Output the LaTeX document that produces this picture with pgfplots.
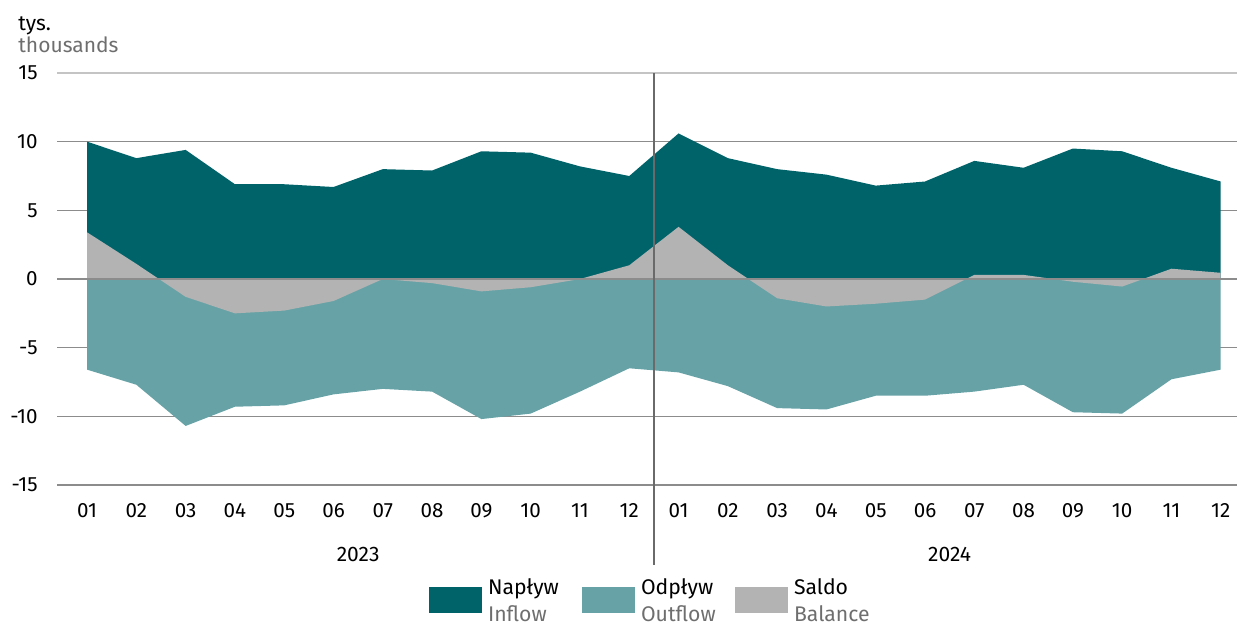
\documentclass[border=0pt]{standalone}
\usepackage{pgfplots}
\pgfplotsset{compat=1.18}
\usepackage{pgfplotstable}
\usepackage{fontspec}
\setmainfont{Fira Sans}
\definecolor{inflowc}{HTML}{00636A}
\definecolor{outflowc}{HTML}{67A2A6}
\definecolor{balancec}{HTML}{B3B3B3}
\definecolor{gridc}{HTML}{8C8C8C}
\definecolor{gridtop}{HTML}{C4C4C4}
\definecolor{subtext}{HTML}{6E6E6E}
\definecolor{sepc}{HTML}{6A6A6A}
\pgfplotstableread{
x inflow outflow balance
0 10.0 -6.6 3.4
1 8.8 -7.7 1.1
2 9.4 -10.7 -1.3
3 6.9 -9.3 -2.5
4 6.9 -9.2 -2.3
5 6.7 -8.4 -1.6
6 8.0 -8.0 0.0
7 7.9 -8.2 -0.3
8 9.3 -10.2 -0.9
9 9.2 -9.8 -0.6
10 8.2 -8.2 0.0
11 7.5 -6.5 1.0
12 10.6 -6.8 3.8
13 8.8 -7.8 1.0
14 8.0 -9.4 -1.4
15 7.6 -9.5 -2.0
16 6.8 -8.5 -1.8
17 7.1 -8.5 -1.5
18 8.6 -8.2 0.3
19 8.1 -7.7 0.3
20 9.5 -9.7 -0.2
21 9.3 -9.8 -0.55
22 8.1 -7.3 0.75
23 7.1 -6.6 0.45
}\datatable
\newcommand{\legtext}[2]{\raisebox{5pt}[6pt][6pt]{\parbox[t]{47pt}{\raggedright\fontsize{10.6}{13.5}\selectfont #1\\\textcolor{subtext}{#2}}}}
\begin{document}
\fontsize{10.5}{12.5}\selectfont
\begin{tikzpicture}
\path[use as bounding box] (0,0) rectangle (618.5pt,311.5pt);
\node[anchor=base west, inner sep=0pt] at (9pt,296.5pt) {tys.};
\node[anchor=base west, inner sep=0pt, text=subtext] at (9pt,285pt) {thousands};
\begin{axis}[
  at={(28.5pt,69pt)}, anchor=south west,
  width=590pt, height=206pt, scale only axis,
  xmin=-0.61, xmax=23.33, ymin=-15, ymax=15,
  clip=false,
  axis line style={draw=none},
  major tick length=0pt,
  ytick={-15,-10,-5,0,5,10},
  extra y ticks={15},
  extra y tick style={grid style={draw=gridtop, line width=0.6pt}},
  ymajorgrids,
  grid style={draw=gridc, line width=0.6pt},
  xtick={0,...,23},
  xticklabels={01,02,03,04,05,06,07,08,09,10,11,12,01,02,03,04,05,06,07,08,09,10,11,12},
  /pgf/number format/assume math mode=true,
  yticklabel style={anchor=east, inner sep=0pt, xshift=-9.5pt},
  xticklabel style={anchor=base, inner sep=0pt, yshift=-16pt},
  tick label style={font=\fontsize{10.3}{12}\selectfont},
  legend columns=3,
  legend style={at={(0.503,0)}, anchor=center, xshift=4pt, yshift=-57.5pt, draw=none, fill=none,
    inner sep=0pt,
    nodes={inner sep=0pt},
    /tikz/every odd column/.append style={column sep=3pt}},
  legend image code/.code={\path[#1] (0pt,-6.5pt) rectangle (26.5pt,6.5pt);},
]
\addplot[fill=inflowc, draw=none] table[x=x, y=inflow] {\datatable} \closedcycle;
\addlegendentry{\legtext{Napływ}{Inflow}}
\addplot[fill=outflowc, draw=none] table[x=x, y=outflow] {\datatable} \closedcycle;
\addlegendentry{\legtext{Odpływ}{Outflow}}
\addplot[fill=balancec, draw=none] table[x=x, y=balance] {\datatable} \closedcycle;
\addlegendentry{\legtext{Saldo}{Balance}}
\draw[draw=gridc, line width=0.7pt] (rel axis cs:0,0.5) -- (rel axis cs:1,0.5);
\draw[draw=sepc, line width=0.6pt] (axis cs:11.5,15) -- ([yshift=-40pt]axis cs:11.5,-15);
\node[anchor=base, inner sep=0pt] at ([yshift=-38pt]axis cs:5.5,-15) {2023};
\node[anchor=base, inner sep=0pt] at ([yshift=-38pt]axis cs:17.5,-15) {2024};
\end{axis}
\end{tikzpicture}
\end{document}
